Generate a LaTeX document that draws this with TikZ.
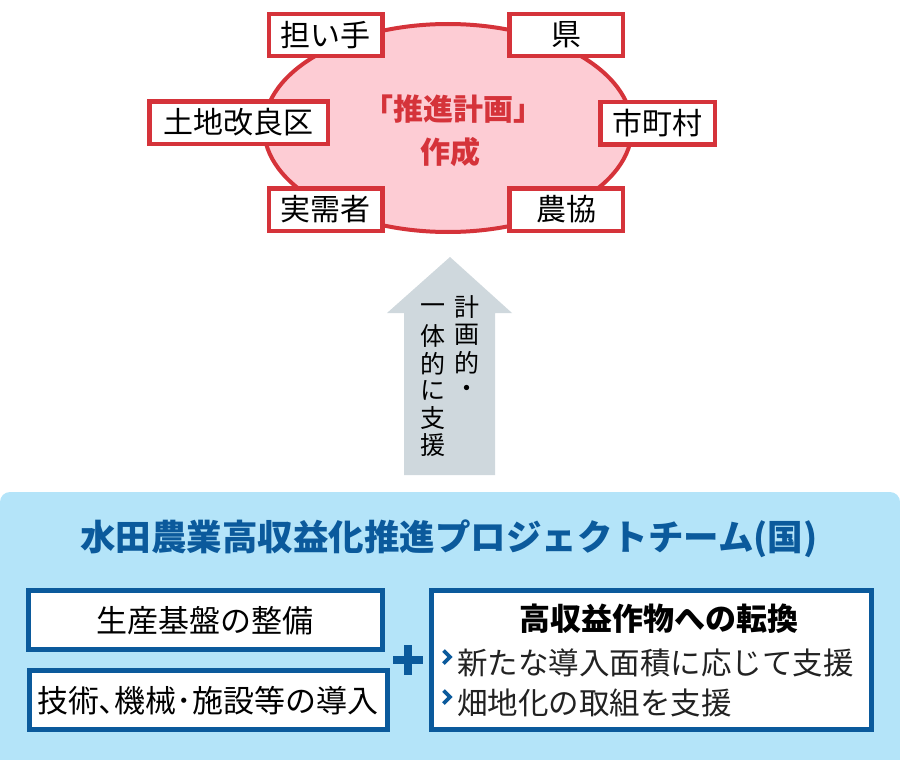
\documentclass[tikz,border=0pt]{standalone}
\usepackage{fontspec}
\setmainfont{Noto Sans CJK JP}
\usetikzlibrary{shapes.geometric}
\definecolor{redb}{HTML}{D5333A}
\definecolor{pinkf}{HTML}{FDCCD4}
\definecolor{grayarrow}{HTML}{CFD8DD}
\definecolor{panel}{HTML}{B4E4F9}
\definecolor{navy}{HTML}{0B5A9C}
\definecolor{txtgray}{HTML}{222222}
\begin{document}
\begin{tikzpicture}[x=1pt,y=-1pt,
  redbox/.style={draw=redb, line width=4.5pt, fill=white, inner sep=0pt,
    minimum height=42pt, font=\fontsize{30}{32}\selectfont},
  bluebox/.style={draw=navy, line width=5pt, fill=white, inner sep=0pt},
  boxtext/.style={font=\fontsize{31}{33}\selectfont, text=black, inner sep=0pt},
  vchar/.style={font=\fontsize{25}{27}\selectfont, text=black, inner sep=0pt},
  bullettext/.style={font=\fontsize{30.5}{33}\selectfont, text=txtgray, inner sep=0pt, anchor=west},
  chevron/.style={draw=navy, line width=3.6pt, line cap=butt, line join=miter},
]
\useasboundingbox (0,0) rectangle (900,760);
% top ellipse
\node[ellipse, draw=redb, line width=4pt, fill=pinkf, minimum width=368pt, minimum height=208pt, inner sep=0pt] (plan) at (448,128) {};
\node[font=\bfseries\fontsize{30}{32}\selectfont, text=redb, inner sep=0pt] (plantitle) at (453,109) {「推進計画」};
\node[font=\bfseries\fontsize{30}{32}\selectfont, text=redb, inner sep=0pt] (plansub) at (450,152) {作成};
% red boxes
\node[redbox, minimum width=113.5pt] (ninaite) at (325.5,35) {担い手};
\node[redbox, minimum width=113.5pt] (ken) at (566,35) {県};
\node[redbox, minimum width=178.5pt, minimum height=42.5pt] (tochi) at (238.5,122.5) {土地改良区};
\node[redbox, minimum width=114.5pt, minimum height=42.5pt] (shicho) at (657.5,123) {市町村};
\node[redbox, minimum width=113.5pt, minimum height=42.5pt] (jitsuju) at (325.5,209.5) {実需者};
\node[redbox, minimum width=113.5pt, minimum height=42.5pt] (nokyo) at (566,209.5) {農協};
% arrow
\fill[grayarrow] (404,475) -- (404,313) -- (387,313) -- (450,257) -- (512,313) -- (495,313) -- (495,475) -- cycle;
\foreach \c [count=\i] in {計,画,的,・}
  \node[vchar] (rc\i) at (467,{307+28*(\i-1)}) {\c};
\foreach \c [count=\i] in {一,体,的,に,支,援}
  \node[vchar] (lc\i) at (433,{309+27.2*(\i-1)}) {\c};
% bottom panel
\fill[panel, rounded corners=10pt] (0,762) -- (0,492) -- (900,492) -- (900,762);
\node[font=\bfseries\fontsize{35.5}{38}\selectfont, text=navy, inner sep=0pt] (team) at (449,539) {水田農業高収益化推進プロジェクトチーム(国)};
% blue boxes
\node[bluebox, minimum width=354pt, minimum height=59pt] (kiban) at (205,620) {};
\node[boxtext] (kibant) at (205,621) {生産基盤の整備};
\node[bluebox, minimum width=358pt, minimum height=59pt] (gijutsu) at (208.5,700) {};
\node[boxtext] (gijutsut) at (208,701) {技術､機械･施設等の導入};
\node[bluebox, minimum width=440pt, minimum height=139pt] (tenkan) at (651.5,660) {};
\node[font=\bfseries\fontsize{31}{33}\selectfont, text=black, inner sep=0pt] (tenkant) at (659,619) {高収益作物への転換};
\draw[chevron] (443.5,650.5) -- (450,657) -- (443.5,663.5);
\node[bullettext] (b1) at (457,663) {新たな導入面積に応じて支援};
\draw[chevron] (443.5,690.5) -- (450,697) -- (443.5,703.5);
\node[bullettext] (b2) at (457,703) {畑地化の取組を支援};
% plus
\fill[navy] (393,656) rectangle (423,664);
\fill[navy] (404,645) rectangle (412,675);
\end{tikzpicture}
\end{document}
